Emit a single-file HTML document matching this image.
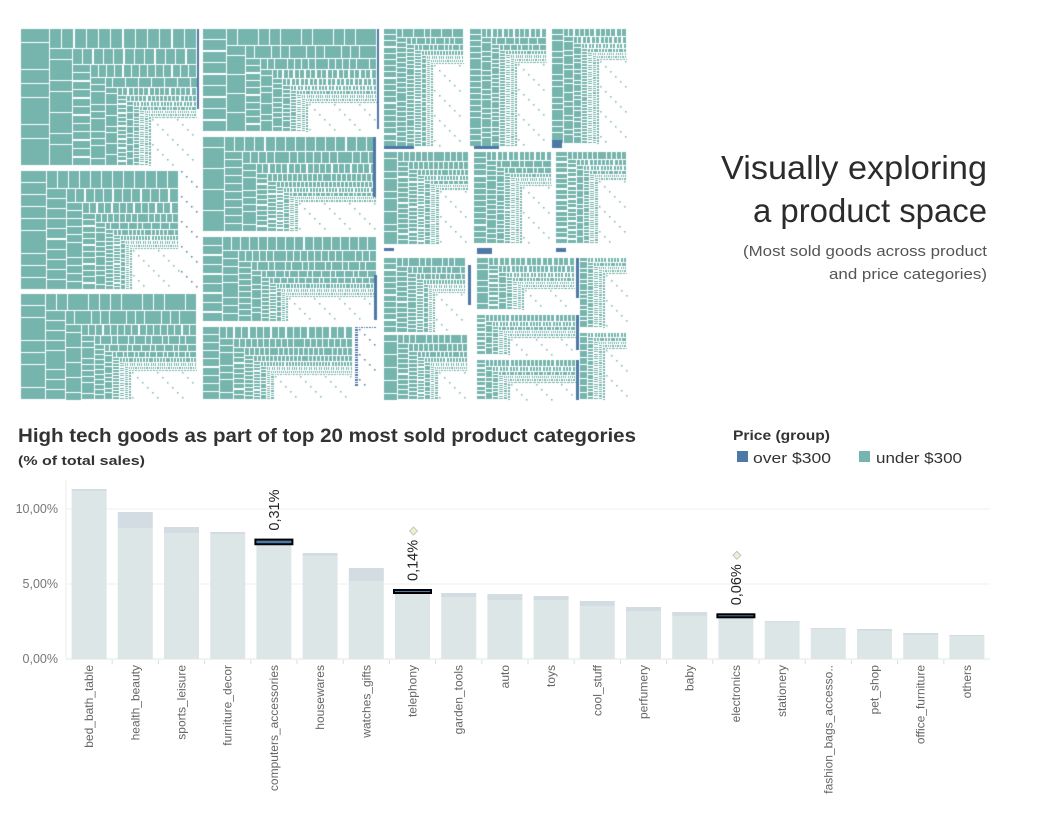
<!DOCTYPE html>
<html><head><meta charset="utf-8">
<style>
html,body{margin:0;padding:0;background:#fff;width:1052px;height:819px;overflow:hidden;font-family:"Liberation Sans",sans-serif;}
#tm{position:absolute;left:0;top:0;}
#ov{position:absolute;left:0;top:0;}
</style></head>
<body>
<canvas id="tm" width="640" height="410"></canvas>
<svg id="ov" width="1052" height="819" xmlns="http://www.w3.org/2000/svg">
  <g font-family="Liberation Sans, sans-serif" text-anchor="end">
    <text x="987" y="179" font-size="33" fill="#2b2b2b" textLength="266" lengthAdjust="spacingAndGlyphs">Visually exploring</text>
    <text x="987" y="222" font-size="33" fill="#2b2b2b" textLength="234" lengthAdjust="spacingAndGlyphs">a product space</text>
    <text x="987" y="256" font-size="15" fill="#555" textLength="244" lengthAdjust="spacingAndGlyphs">(Most sold goods across product</text>
    <text x="987" y="279" font-size="15" fill="#555" textLength="158" lengthAdjust="spacingAndGlyphs">and price categories)</text>
  </g>
  <text x="18" y="442" font-size="19" font-weight="bold" fill="#333" textLength="618" lengthAdjust="spacingAndGlyphs">High tech goods as part of top 20 most sold product categories</text>
  <text x="18" y="465" font-size="13" font-weight="bold" fill="#333" textLength="127" lengthAdjust="spacingAndGlyphs">(% of total sales)</text>
  <g>
    <text x="733" y="440" font-size="14" font-weight="bold" fill="#333" textLength="97" lengthAdjust="spacingAndGlyphs">Price (group)</text>
    <rect x="737" y="451" width="11" height="11" fill="#4e79a7"/>
    <text x="753" y="463" font-size="15" fill="#333" textLength="78" lengthAdjust="spacingAndGlyphs">over $300</text>
    <rect x="859" y="451" width="11" height="11" fill="#76b5ad"/>
    <text x="876" y="463" font-size="15" fill="#333" textLength="86" lengthAdjust="spacingAndGlyphs">under $300</text>
  </g>
  <g id="chart"></g>
</svg>
<script>
// ---------- bar chart data ----------
const categories = ["bed_bath_table","health_beauty","sports_leisure","furniture_decor","computers_accessories","housewares","watches_gifts","telephony","garden_tools","auto","toys","cool_stuff","perfumery","baby","electronics","stationery","fashion_bags_accesso..","pet_shop","office_furniture","others"];
const underValues = [11.2,8.73,8.4,8.33,7.65,6.87,5.2,4.4,4.13,3.93,3.93,3.53,3.2,2.87,2.78,2.47,2.0,1.87,1.6,1.53];
const overValues = [0.13,1.07,0.4,0.14,0.31,0.2,0.87,0.14,0.27,0.4,0.27,0.34,0.27,0.26,0.06,0.06,0.07,0.13,0.13,0.07];
const highTech = ["computers_accessories","telephony","electronics"];
const tickValues = [0,5,10];
const tickLabels = ["0,00%","5,00%","10,00%"];

const NS="http://www.w3.org/2000/svg";
const g=document.getElementById('chart');
const x0=66,x1=990,yBase=659,pxPer=15;
const step=(x1-x0)/categories.length, bw=35;
function yS(v){return yBase-v*pxPer;}
function xC(i){return x0+step*(i+0.5);}
function mk(tag,attrs){const e=document.createElementNS(NS,tag);for(const k in attrs)e.setAttribute(k,attrs[k]);g.appendChild(e);return e;}
tickValues.forEach((t,i)=>{
  const l=mk('line',{x1:x0,x2:x1,y1:yS(t),y2:yS(t),stroke:i===0?'#e6e6e6':'#efefef','stroke-width':1});
  
  
  const tx=mk('text',{x:58,y:yS(t)+4,'font-size':12.5,fill:'#777','text-anchor':'end'});
  tx.textContent=tickLabels[i];
  
  
});
const ax=mk('line',{x1:x0,x2:x0,y1:480,y2:yBase,stroke:'#eee'});


categories.forEach((c,i)=>{
  const cx=xC(i), u=underValues[i], o=overValues[i];
  const b=mk('rect',{x:cx-bw/2,y:yS(u),width:bw,height:u*pxPer,fill:'#dce6e6'});
  
  
  const isHT=highTech.includes(c);
  if(isHT){
    const h=Math.max(3,o*pxPer);
    const r=mk('rect',{x:cx-bw/2-1,y:yS(u)-h,width:bw+2,height:h,fill:'#4e79a7',stroke:'#000','stroke-width':2});
    
    
    const ly=yS(u)-h-9;
    const lbl=mk('text',{x:0,y:0,'font-size':14.5,fill:'#222',transform:`translate(${cx+5},${ly}) rotate(-90)`});
    lbl.textContent=o.toFixed(2).replace('.',',')+'%';
    
    
    if(c!=='computers_accessories'){
      const dy=ly-50;
      const d=mk('path',{d:`M${cx+1},${dy-4}L${cx+5},${dy}L${cx+1},${dy+4}L${cx-3},${dy}Z`,fill:'#eeeed0',stroke:'#bbb','stroke-width':0.8});
      
      
    }
  } else {
    const r=mk('rect',{x:cx-bw/2,y:yS(u+o),width:bw,height:o*pxPer,fill:'#d3dce2'});
    
    
  }
  const t=mk('text',{x:0,y:0,'font-size':12,fill:'#666','text-anchor':'end',transform:`translate(${cx+4},665) rotate(-90)`});
  t.textContent=c;
  
  
  if(i>0){const tk=mk('line',{x1:x0+step*i,x2:x0+step*i,y1:yBase+1,y2:yBase+5,stroke:'#ddd'});
    
    }
});

// ---------- treemap (decorative texture) ----------
const cv=document.getElementById('tm'),ctx=cv.getContext('2d');
const TEAL='#76b5ad',BLUE='#4e79a7';
function block(x,y,w,h,color){
  let s=Math.min(w*0.09,h*0.13);
  ctx.fillStyle=color;
  while(w>2&&h>2){
    if(s<1.7){
      for(let i=0;i*5<w;i++)for(let j=0;j*5<h;j++){
        if(((i*3+j*7)%5)===0) ctx.fillRect(Math.round(x+i*5),Math.round(y+j*5),1.5,1.5);
      }
      break;
    }
    let cw=Math.min(w,Math.round(s*1.8));
    let n=Math.max(1,Math.round(h/(s*0.85)));
    for(let k=0;k<n;k++){const yy=y+k*h/n;ctx.fillRect(x,Math.round(yy),cw-1,Math.max(1,Math.round(h/n)-1));}
    x+=cw;w-=cw;
    if(w<=2)break;
    let rh=Math.min(h,Math.round(s*1.25));
    n=Math.max(1,Math.round(w/(s*0.8)));
    for(let k=0;k<n;k++){const xx=x+k*w/n;ctx.fillRect(Math.round(xx),y,Math.max(1,Math.round(w/n)-1),rh-1);}
    y+=rh;h-=rh;s*=0.8;
  }
}
const blocks=[
 [21,29,176,137],[21,171,158,119],[21,294,176,106],
 [203,29,174,103],[203,137,174,95],[203,237,174,85],[203,327,150,73],
 [384,29,80,118],[470,29,77,118],[552,29,75,115],
 [384,152,85,93],[474,152,78,92],[556,152,71,92],
 [384,258,82,75],[477,258,98,52],[580,258,47,70],
 [384,335,84,65],[477,315,99,40],[477,360,99,40],[580,333,47,67]
];
blocks.forEach(b=>block(b[0],b[1],b[2],b[3],TEAL));
ctx.fillStyle=BLUE;
block(181,171,16,119,BLUE);
block(355,327,22,60,BLUE);
[[197,29,2,80],[377,29,2,100],[373,137,3,60],[374,275,3,45],[552,140,10,8],[384,146,30,3],[474,146,25,3],[477,248,15,6],[384,248,10,3],[556,248,10,4],[468,265,3,40],[576,258,3,40],[576,315,3,35],[576,360,3,40]].forEach(r=>ctx.fillRect(r[0],r[1],r[2],r[3]));
</script>
</body></html>
